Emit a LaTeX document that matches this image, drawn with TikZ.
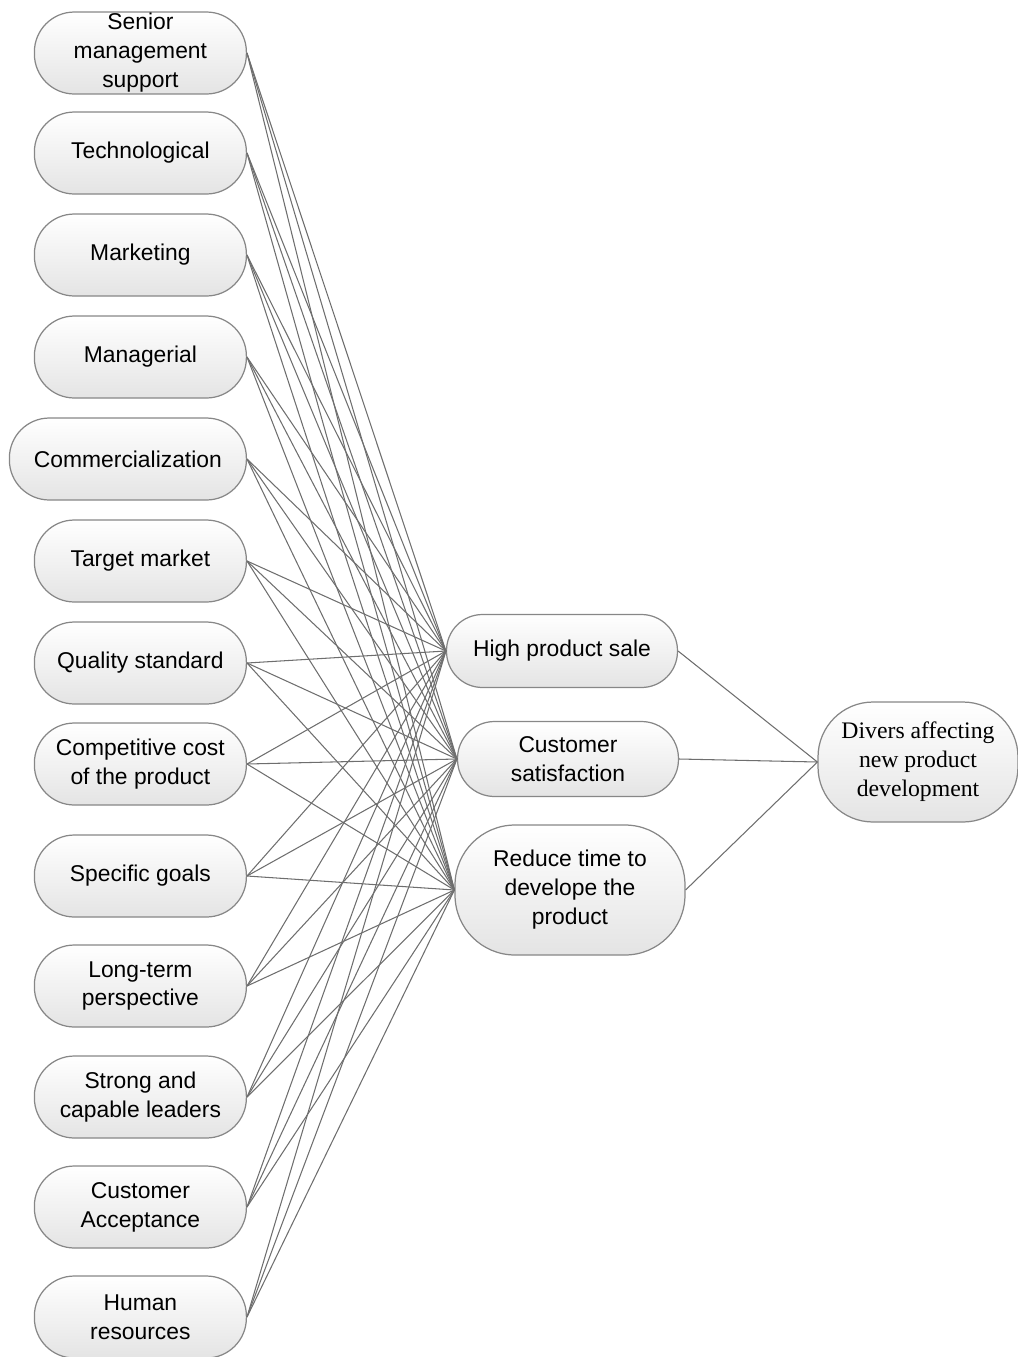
\documentclass[tikz,border=0pt]{standalone}
\usepackage{fontspec}
\setmainfont{Liberation Sans}
\newfontfamily\rightfont{Liberation Serif}
\usetikzlibrary{shadows}

\definecolor{rimgray}{RGB}{135,135,135}
\definecolor{linegray}{RGB}{110,110,110}
\definecolor{shadegray}{RGB}{228,228,228}

\tikzset{
  factor/.style={draw=rimgray, line width=0.7pt, top color=white, bottom color=shadegray,
    align=center, inner xsep=2pt, inner ysep=0pt,
    font=\fontsize{13}{16.5}\selectfont},
  link/.style={draw=linegray, line width=0.6pt},
}

\begin{document}
\begin{tikzpicture}[x=0.02cm, y=-0.02cm]
			\useasboundingbox (0,0) rectangle (1018,1357);
			% left column of factors
			\foreach \n/\y/\w/\t in {sm/53/212/{Senior\\management\\support},
				te/153/212/Technological, mk/255/212/Marketing, mg/357/212/Managerial,
				co/459/237/Commercialization, tm/561/212/Target market,
				qs/663/212/Quality standard, cc/764/212/{Competitive cost\\of the product},
				sg/876/212/Specific goals, lt/986/212/{Long-term\\perspective},
				sl/1097/212/{Strong and\\capable leaders}, ca/1207/212/{Customer\\Acceptance},
				hr/1317/212/{Human\\resources}}{
				\node[factor, anchor=east, rounded corners=0.8cm, minimum width=\w*0.02cm,
					minimum height=1.64cm] (\n) at (247,\y) {\t};
			}
			% middle column
			\node[factor, rounded corners=0.72cm, minimum width=4.62cm, minimum height=1.46cm] (hs) at (562,651) {High product sale};
			\node[factor, rounded corners=0.74cm, minimum width=4.42cm, minimum height=1.5cm] (cs) at (568,759) {Customer\\satisfaction};
			\node[factor, rounded corners=1.2cm, minimum width=4.6cm, minimum height=2.6cm] (rt) at (570,890) {Reduce time to\\develope the\\product};
			% right node
			\node[factor, rounded corners=1.1cm, minimum width=4.0cm, minimum height=2.4cm,
				font=\rightfont\fontsize{13.5}{16.5}\selectfont] (dv) at (918,762) {Divers affecting\\new product\\development};
			% links
			\foreach \l in {sm,te,mk,mg,co,tm,qs,cc,sg,lt,sl,ca,hr}{
				\foreach \m in {hs,cs,rt}{
					\draw[link] (\l.east) -- (\m.west);
				}
			}
			\foreach \m in {hs,cs,rt}{
				\draw[link] (\m.east) -- (dv.west);
			}
\end{tikzpicture}
\end{document}
